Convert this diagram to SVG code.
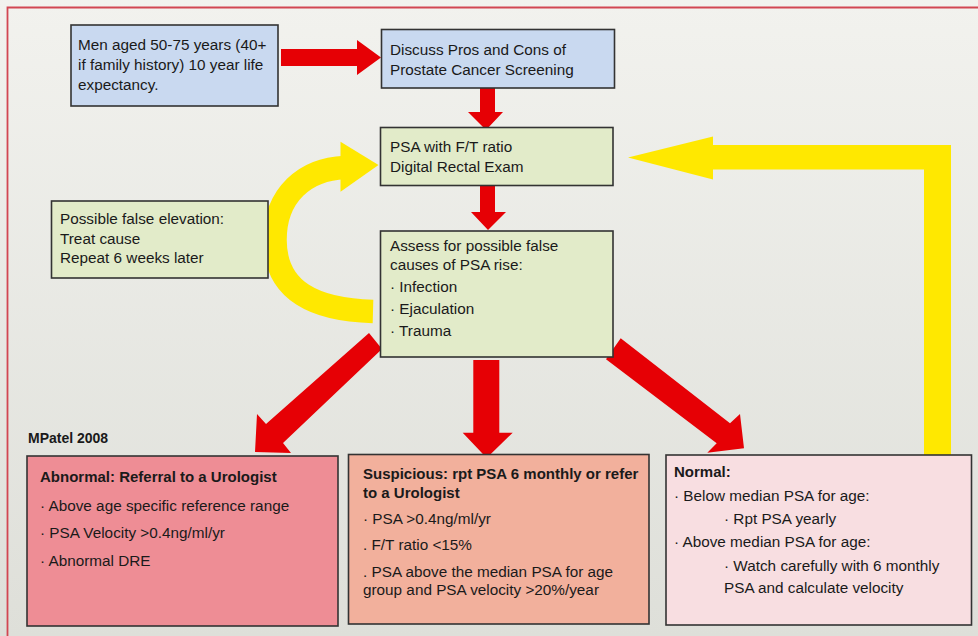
<svg xmlns="http://www.w3.org/2000/svg" width="978" height="636" viewBox="0 0 978 636">
<defs>
<linearGradient id="bg" x1="0" y1="0" x2="0" y2="1">
<stop offset="0" stop-color="#f2f2ee"/>
<stop offset="1" stop-color="#dedfd9"/>
</linearGradient>
<style>
text{font-family:"Liberation Sans",Arial,sans-serif;font-size:15.3px;fill:#1a1a1a}
.b{font-weight:bold;font-size:15px}
.box{stroke:#333;stroke-width:1.6}
.blue{fill:#c9d9f0}
.green{fill:#e2ebc9}
.red{fill:#e60005}
.yel{fill:#ffe800}
</style>
</defs>
<rect x="0" y="0" width="978" height="636" fill="url(#bg)"/>
<path d="M7.5,636 V7.5 H978" fill="none" stroke="#d24652" stroke-width="1.8"/>

<g id="connectors">
<polygon class="red" points="281,49 357,49 357,40 381,57.5 357,75 357,66 281,66"/>
<polygon class="red" points="480,88 495,88 495,112 503,112 486,130 468,112 480,112"/>
<polygon class="red" points="480,185 495,185 495,212 506,212 488,230 471,212 480,212"/>
<path d="M373,311.5 C316,310 275,292 275,240 C275,195 305,169 345,167.5" fill="none" stroke="#ffe800" stroke-width="23.5"/>
<polygon class="yel" points="340.5,141.7 378.5,165 340.5,191.7"/>
<polygon class="yel" points="951,455 924,455 924,169.5 713,169.5 713,179.5 628,157.5 713,136.5 713,145 951,145"/>
<polygon class="red" points="369,333 382,349 283,443 291,453 255,452 257,414 266,424"/>
<polygon class="red" points="473.3,360 499.3,360 499.3,432.7 512.7,432.7 486.7,458 462.7,432.7 473.3,432.7"/>
<polygon class="red" points="620.7,338.3 730,423.3 740,414 744,448.3 707.3,452.7 716.7,443.3 606,359.3"/>
</g>

<g id="n1">
<rect class="box blue" x="71" y="25" width="207" height="81" stroke-width="2"/>
<text x="78" y="50">Men aged 50-75 years (40+</text>
<text x="78" y="70">if family history) 10 year life</text>
<text x="78" y="90">expectancy.</text>
</g>
<g id="n2">
<rect class="box blue" x="381.5" y="29.5" width="233" height="58.5"/>
<text x="390" y="55">Discuss Pros and Cons of</text>
<text x="390" y="75">Prostate Cancer Screening</text>
</g>
<g id="n3">
<rect class="box green" x="380.5" y="127.5" width="232.5" height="58"/>
<text x="390" y="152">PSA with F/T ratio</text>
<text x="390" y="172">Digital Rectal Exam</text>
</g>
<g id="n4">
<rect class="box green" x="380.5" y="231" width="232.5" height="126"/>
<text x="390" y="251">Assess for possible false</text>
<text x="390" y="270">causes of PSA rise:</text>
<text x="390" y="292">· Infection</text>
<text x="390" y="314">· Ejaculation</text>
<text x="390" y="336">· Trauma</text>
</g>
<g id="n5">
<rect class="box green" x="51.5" y="201" width="216.5" height="77"/>
<text x="60" y="224">Possible false elevation:</text>
<text x="60" y="244">Treat cause</text>
<text x="60" y="263">Repeat 6 weeks later</text>
</g>
<g id="credit">
<text class="b" x="28" y="443" style="font-size:14px">MPatel 2008</text>
</g>
<g id="n6">
<rect class="box" x="27" y="456" width="311" height="170" fill="#ee8d95"/>
<text class="b" x="40" y="482">Abnormal: Referral to a Urologist</text>
<text x="40" y="511">· Above age specific reference range</text>
<text x="40" y="538">· PSA Velocity &gt;0.4ng/ml/yr</text>
<text x="40" y="566">· Abnormal DRE</text>
</g>
<g id="n7">
<rect class="box" x="348.5" y="454.5" width="300.5" height="169.5" fill="#f2b09c"/>
<text class="b" x="363" y="479">Suspicious: rpt PSA 6 monthly or refer</text>
<text class="b" x="363" y="498">to a Urologist</text>
<text x="363" y="524">· PSA &gt;0.4ng/ml/yr</text>
<text x="363" y="550">. F/T ratio &lt;15%</text>
<text x="363" y="577">. PSA above the median PSA for age</text>
<text x="363" y="595">group and PSA velocity &gt;20%/year</text>
</g>
<g id="n8">
<rect class="box" x="666" y="455" width="305.5" height="170" fill="#f8dee1"/>
<text class="b" x="674" y="477">Normal:</text>
<text x="674" y="501">· Below median PSA for age:</text>
<text x="724" y="524">· Rpt PSA yearly</text>
<text x="674" y="547">· Above median PSA for age:</text>
<text x="724" y="571">· Watch carefully with 6 monthly</text>
<text x="724" y="593">PSA and calculate velocity</text>
</g>
</svg>
